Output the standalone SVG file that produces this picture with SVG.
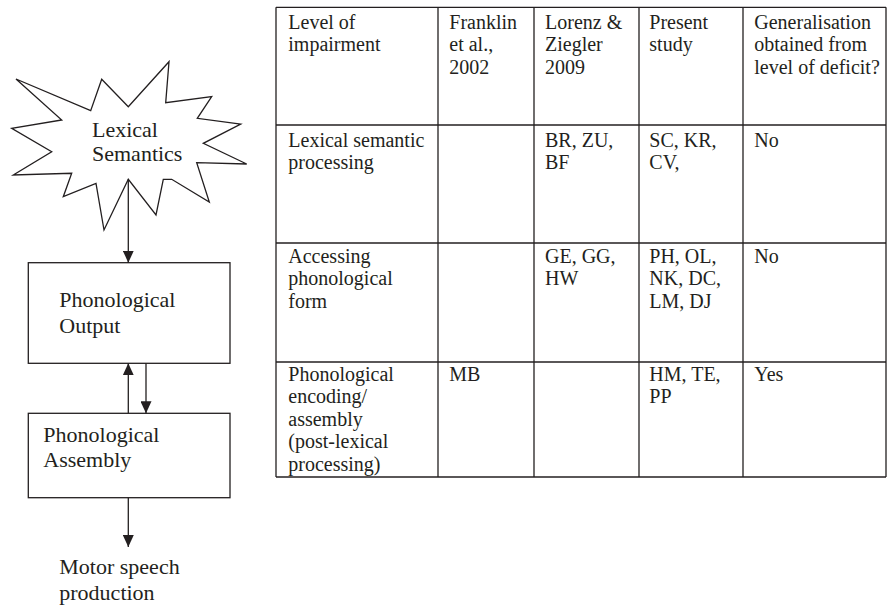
<svg xmlns="http://www.w3.org/2000/svg" width="887" height="605" viewBox="0 0 887 605">
<style>
.t{font-family:"Liberation Serif","Times New Roman",serif;font-size:20px;fill:#231f20}
.d{font-family:"Liberation Serif","Times New Roman",serif;font-size:22px;fill:#231f20}
.ln{stroke:#231f20;stroke-width:1.3;fill:none}
.box{stroke:#231f20;stroke-width:1.3;fill:#fff}
</style>
<defs>
<marker id="ah" markerUnits="userSpaceOnUse" markerWidth="12" markerHeight="11" viewBox="0 0 12 11" refX="12" refY="5.5" orient="auto">
<path d="M0,0 L12,5.5 L0,11 Z" fill="#231f20"/>
</marker>
</defs>
<rect width="887" height="605" fill="#fff"/>

<g id="lexical-semantics">
<polygon class="box" points="16,79 90.7,110.7 101.7,79.3 128.3,106.7 169,61.7 165.7,102.7 211.7,96.7 197.3,118.3 240.7,124 203.3,143.3 246.7,164 196.7,162.7 209.3,202 171.7,179.3 163.3,179.3 156,215 128.3,179.3 104,230 96,183.3 63.3,196.7 71.7,173.3 13.3,175 51.7,151.7 11.7,128.3 61.7,120"/>
<text class="d" x="92" y="137.3">Lexical</text>
<text class="d" x="92" y="160.7">Semantics</text>
</g>

<g id="phonological-output">
<rect class="box" x="28.3" y="262.7" width="201.7" height="100.6"/>
<text class="d" x="59.3" y="307.3">Phonological</text>
<text class="d" x="59.3" y="332.5">Output</text>
</g>

<g id="phonological-assembly">
<rect class="box" x="28.3" y="413.3" width="201.7" height="84.4"/>
<text class="d" x="43.3" y="441.7">Phonological</text>
<text class="d" x="43.3" y="466.7">Assembly</text>
</g>

<g id="motor-speech">
<text class="d" x="59.3" y="574">Motor speech</text>
<text class="d" x="59.3" y="600">production</text>
</g>

<g id="connectors">
<line class="ln" x1="128.3" y1="179.3" x2="128.3" y2="262.7" marker-end="url(#ah)"/>
<line class="ln" x1="128.3" y1="413.3" x2="128.3" y2="363.3" marker-end="url(#ah)"/>
<line class="ln" x1="146" y1="363.3" x2="146" y2="413.3" marker-end="url(#ah)"/>
<line class="ln" x1="128.3" y1="497.7" x2="128.3" y2="547" marker-end="url(#ah)"/>
</g>

<g id="table">
<g class="ln">
<line x1="276" y1="7.3" x2="886" y2="7.3"/>
<line x1="276" y1="125" x2="886" y2="125"/>
<line x1="276" y1="243" x2="886" y2="243"/>
<line x1="276" y1="362" x2="886" y2="362"/>
<line x1="276" y1="477" x2="886" y2="477"/>
<line x1="276" y1="7.3" x2="276" y2="477"/>
<line x1="438" y1="7.3" x2="438" y2="477"/>
<line x1="534" y1="7.3" x2="534" y2="477"/>
<line x1="639" y1="7.3" x2="639" y2="477"/>
<line x1="743" y1="7.3" x2="743" y2="477"/>
<line x1="886" y1="7.3" x2="886" y2="477"/>
</g>
<text class="t" x="288.3" y="28.5">Level of</text>
<text class="t" x="288.3" y="51">impairment</text>
<text class="t" x="449.3" y="28.5">Franklin</text>
<text class="t" x="449.3" y="51">et al.,</text>
<text class="t" x="449.3" y="73.5">2002</text>
<text class="t" x="545" y="28.5">Lorenz &amp;</text>
<text class="t" x="545" y="51">Ziegler</text>
<text class="t" x="545" y="73.5">2009</text>
<text class="t" x="649.3" y="28.5">Present</text>
<text class="t" x="649.3" y="51">study</text>
<text class="t" x="754.3" y="28.5">Generalisation</text>
<text class="t" x="754.3" y="51">obtained from</text>
<text class="t" x="754.3" y="73.5">level of deficit?</text>

<text class="t" x="288.3" y="146.7">Lexical semantic</text>
<text class="t" x="288.3" y="169.2">processing</text>
<text class="t" x="545" y="146.7">BR, ZU,</text>
<text class="t" x="545" y="169.2">BF</text>
<text class="t" x="649.3" y="146.7">SC, KR,</text>
<text class="t" x="649.3" y="169.2">CV,</text>
<text class="t" x="754.3" y="146.7">No</text>

<text class="t" x="288.3" y="262.5">Accessing</text>
<text class="t" x="288.3" y="285">phonological</text>
<text class="t" x="288.3" y="307.5">form</text>
<text class="t" x="545" y="262.5">GE, GG,</text>
<text class="t" x="545" y="285">HW</text>
<text class="t" x="649.3" y="262.5">PH, OL,</text>
<text class="t" x="649.3" y="285">NK, DC,</text>
<text class="t" x="649.3" y="307.5">LM, DJ</text>
<text class="t" x="754.3" y="262.5">No</text>

<text class="t" x="288.3" y="380.7">Phonological</text>
<text class="t" x="288.3" y="403.2">encoding/</text>
<text class="t" x="288.3" y="425.7">assembly</text>
<text class="t" x="288.3" y="448.2">(post-lexical</text>
<text class="t" x="288.3" y="470.7">processing)</text>
<text class="t" x="449.3" y="380.7">MB</text>
<text class="t" x="649.3" y="380.7">HM, TE,</text>
<text class="t" x="649.3" y="403.2">PP</text>
<text class="t" x="754.3" y="380.7">Yes</text>
</g>
</svg>
